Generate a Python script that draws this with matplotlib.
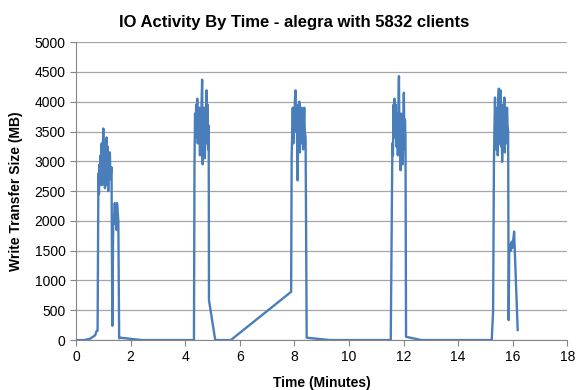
import matplotlib
matplotlib.use("Agg")
import matplotlib.pyplot as plt

plt.rcParams['font.family'] = ['Liberation Sans', 'DejaVu Sans']

# time in minutes and write transfer size (MB)
time_min = [
    0, 0.3, 0.5, 0.6, 0.7, 0.75, 0.79, 0.82, 0.84, 0.86, 0.88, 0.90, 0.92, 0.94,
    0.96, 0.98, 1.00, 1.02, 1.04, 1.06, 1.08, 1.10, 1.12, 1.14, 1.16, 1.18, 1.20,
    1.22, 1.24, 1.26, 1.28, 1.30, 1.33, 1.36, 1.38, 1.40, 1.42, 1.44, 1.46, 1.48,
    1.50, 1.52, 1.55, 1.58, 1.62, 2.4, 4.32,
    4.34, 4.36, 4.38, 4.40, 4.42, 4.44, 4.46, 4.48, 4.50, 4.52, 4.54, 4.56, 4.58,
    4.60, 4.62, 4.64, 4.66, 4.68, 4.70, 4.72, 4.74, 4.76, 4.78, 4.80, 4.82, 4.84,
    4.86, 4.87, 5.10, 5.67,
    7.88, 7.90, 7.92, 7.94, 7.96, 7.98, 8.00, 8.02, 8.04, 8.06, 8.08, 8.10, 8.12,
    8.14, 8.16, 8.18, 8.20, 8.22, 8.24, 8.26, 8.28, 8.30, 8.32, 8.34, 8.36, 8.38,
    8.41, 8.45, 9.3,
    11.53, 11.59, 11.61, 11.63, 11.65, 11.67, 11.69, 11.71, 11.73, 11.75, 11.77,
    11.79, 11.81, 11.83, 11.85, 11.87, 11.89, 11.91, 11.93, 11.95, 11.97, 11.99,
    12.01, 12.03, 12.05, 12.07, 12.09, 12.65,
    15.23, 15.28, 15.31, 15.33, 15.35, 15.37, 15.39, 15.41, 15.43, 15.45, 15.47,
    15.49, 15.51, 15.53, 15.55, 15.57, 15.59, 15.61, 15.63, 15.65, 15.67, 15.69,
    15.71, 15.73, 15.75, 15.77, 15.79, 15.81, 15.83, 15.85, 15.87, 15.90, 15.93,
    15.96, 15.99, 16.02, 16.05, 16.07, 16.18,
]
write_mb = [
    0, 0, 20, 50, 80, 150, 160, 2800, 2450, 2950, 2600, 3100, 2700, 3300,
    2600, 3200, 3550, 2700, 3350, 2550, 3000, 2800, 3400, 2600, 3250, 2500, 3100,
    2900, 3150, 2700, 2800, 2900, 240, 1900, 2100, 2000, 2300, 1950, 2250, 1850,
    2300, 2200, 2000, 30, 40, 0, 0,
    2950, 3800, 3400, 3950, 3600, 4050, 3300, 3850, 3500, 3900, 3100, 3750, 3450,
    4000, 4370, 2950, 3600, 3200, 3900, 3050, 3700, 3300, 4190, 3500, 3950, 3200,
    3600, 670, 0, 0,
    810, 3100, 3450, 3900, 3300, 3850, 3550, 4050, 4190, 3500, 3950, 3250, 2680,
    3700, 3350, 4000, 3150, 3800, 3300, 3900, 3450, 3700, 3200, 3600, 3900, 3500,
    3400, 40, 0,
    0, 3300, 3100, 3950, 3400, 4050, 3500, 3950, 3250, 3800, 3650,
    3100, 3900, 4430, 3250, 3600, 2850, 3800, 3350, 3700, 2950, 3600,
    4150, 3200, 3700, 3400, 55, 0,
    0, 500, 2970, 3600, 4070, 3200, 3800, 3450, 3900, 3100, 4000,
    4220, 3300, 3700, 4190, 3250, 3850, 2990, 3600, 3950, 3400, 4070,
    3150, 3750, 3300, 3650, 3900, 3600, 3500, 335, 1510, 1600, 1500,
    1650, 1550, 1700, 1820, 1550, 170,
]

x_ticks = list(range(0, 19, 2))
y_ticks = list(range(0, 5001, 500))

fig = plt.figure(figsize=(5.76, 3.9), dpi=100)
ax = fig.add_axes([0.132, 0.128, 0.853, 0.764])

ax.plot(time_min, write_mb, color='#4a7ebb', linewidth=1.7)

ax.set_xlim(0, 18)
ax.set_ylim(0, 5000)
ax.set_xticks(x_ticks)
ax.set_yticks(y_ticks)
ax.yaxis.grid(True, color='#a6a6a6', linewidth=0.9)
ax.set_axisbelow(True)

for side in ['top', 'right']:
    ax.spines[side].set_visible(False)
for side in ['left', 'bottom']:
    ax.spines[side].set_color('#868686')
ax.tick_params(axis='both', colors='#868686', labelcolor='black', labelsize=10,
               length=4, direction='out')

# Excel centres the title on the whole chart, not the plot area
fig.text(0.51, 0.943, 'IO Activity By Time - alegra with 5832 clients',
         fontsize=12, fontweight='bold', ha='center', va='center')
ax.set_xlabel('Time (Minutes)', fontsize=10, fontweight='bold', labelpad=8)
ax.set_ylabel('Write Transfer Size (MB)', fontsize=10, fontweight='bold', labelpad=8)

fig.savefig('out.png', dpi=100)
